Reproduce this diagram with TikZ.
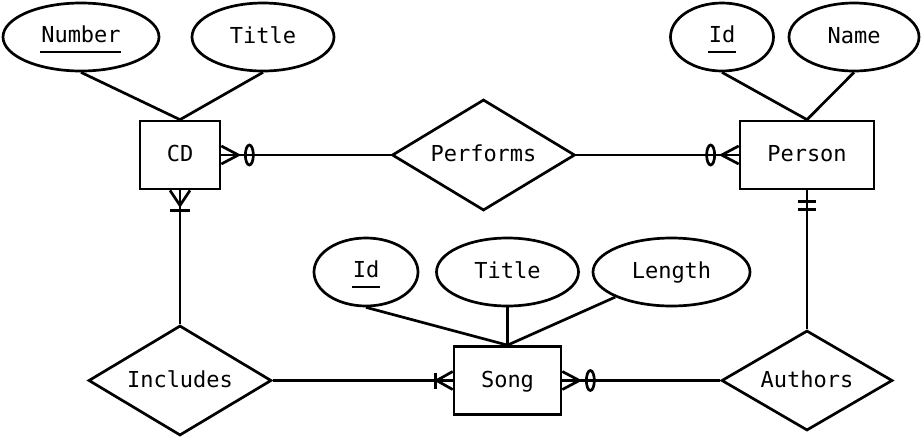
\documentclass[tikz,border=0pt]{standalone}
\usepackage{fontspec}
\setmonofont{DejaVu Sans Mono}
\usetikzlibrary{shapes.geometric,calc}
\begin{document}
\begin{tikzpicture}[x=1pt,y=-1pt,line width=2.7pt,
  every node/.style={font=\ttfamily\fontsize{22}{26}\selectfont,inner sep=0pt,text height=16pt,text depth=3pt},
  ent/.style={draw,rectangle,minimum height=68pt},
  attr/.style={draw,ellipse,minimum height=68pt},
  rel/.style={draw,diamond,label={center:#1}},
  uline/.style={line width=2.8pt},
]
\useasboundingbox (0,0) rectangle (921,437);
% entities
\node[ent,minimum width=80pt] (CD) at (180,155) {CD};
\node[ent,minimum width=134pt] (Person) at (807,155) {Person};
\node[ent,minimum width=107pt] (Song) at (507.5,380.5) {Song};
% relationships
\node[rel=Performs,minimum width=183pt,minimum height=111pt] (Performs) at (483.5,155) {};
\node[rel=Includes,minimum width=183pt,minimum height=110pt] (Includes) at (180,380.5) {};
\node[rel=Authors,minimum width=171pt,minimum height=100pt] (Authors) at (807,380.5) {};
% attributes
\node[attr,minimum width=156pt] (Number) at (81,37) {};
\node (NumberT) at (81,35.5) {Number};
\draw[uline] (40,52) -- (121,52);
\node[attr,minimum width=142pt] (CDTitle) at (263,37) {Title};
\node[attr,minimum width=103pt] (PId) at (722,37) {};
\node (PIdT) at (722,35.5) {Id};
\draw[uline] (708,52) -- (736,52);
\node[attr,minimum width=130pt] (Name) at (854,37) {Name};
\node[attr,minimum width=104pt] (SId) at (366,272) {};
\node (SIdT) at (366,270.5) {Id};
\draw[uline] (352,287) -- (380,287);
\node[attr,minimum width=142pt] (STitle) at (507.5,272) {Title};
\node[attr,minimum width=157pt] (Length) at (671.5,272) {Length};
% attribute links
\draw (Number.south) -- (CD.north);
\draw (CDTitle.south) -- (CD.north);
\draw (PId.south) -- (Person.north);
\draw (Name.south) -- (Person.north);
\draw (SId.south) -- (Song.north);
\draw (STitle.south) -- (Song.north);
\draw (Length) -- (Song.north);
% relationship links
\draw (CD.east) -- (Performs.west);
\draw (Performs.east) -- (Person.west);
\draw (CD.south) -- (Includes.north);
\draw (Includes.east) -- (Song.west);
\draw (Song.east) -- (Authors.west);
\draw (Person.south) -- (Authors.north);
% CD right: many, optional
\draw ($(CD.east)+(0,-9)$) -- ($(CD.east)+(17,0)$) -- ($(CD.east)+(0,9)$);
\draw ($(CD.east)+(28,0)$) ellipse [x radius=4,y radius=10];
% Person left: many, optional
\draw ($(Person.west)+(0,-9)$) -- ($(Person.west)+(-17,0)$) -- ($(Person.west)+(0,9)$);
\draw ($(Person.west)+(-28,0)$) ellipse [x radius=4,y radius=10];
% CD bottom: many, mandatory
\draw ($(CD.south)+(-10,0)$) -- ($(CD.south)+(0,15)$) -- ($(CD.south)+(10,0)$);
\draw ($(CD.south)+(-10,20)$) -- ($(CD.south)+(10,20)$);
% Song left: many, mandatory
\draw ($(Song.west)+(0,-9)$) -- ($(Song.west)+(-16,0)$) -- ($(Song.west)+(0,9)$);
\draw ($(Song.west)+(-17,-8)$) -- ($(Song.west)+(-17,8)$);
% Song right: many, optional
\draw ($(Song.east)+(0,-9)$) -- ($(Song.east)+(17,0)$) -- ($(Song.east)+(0,9)$);
\draw ($(Song.east)+(28,0)$) ellipse [x radius=4,y radius=10];
% Person bottom: one, mandatory
\draw ($(Person.south)+(-9,11)$) -- ($(Person.south)+(9,11)$);
\draw ($(Person.south)+(-9,19)$) -- ($(Person.south)+(9,19)$);
\end{tikzpicture}
\end{document}
